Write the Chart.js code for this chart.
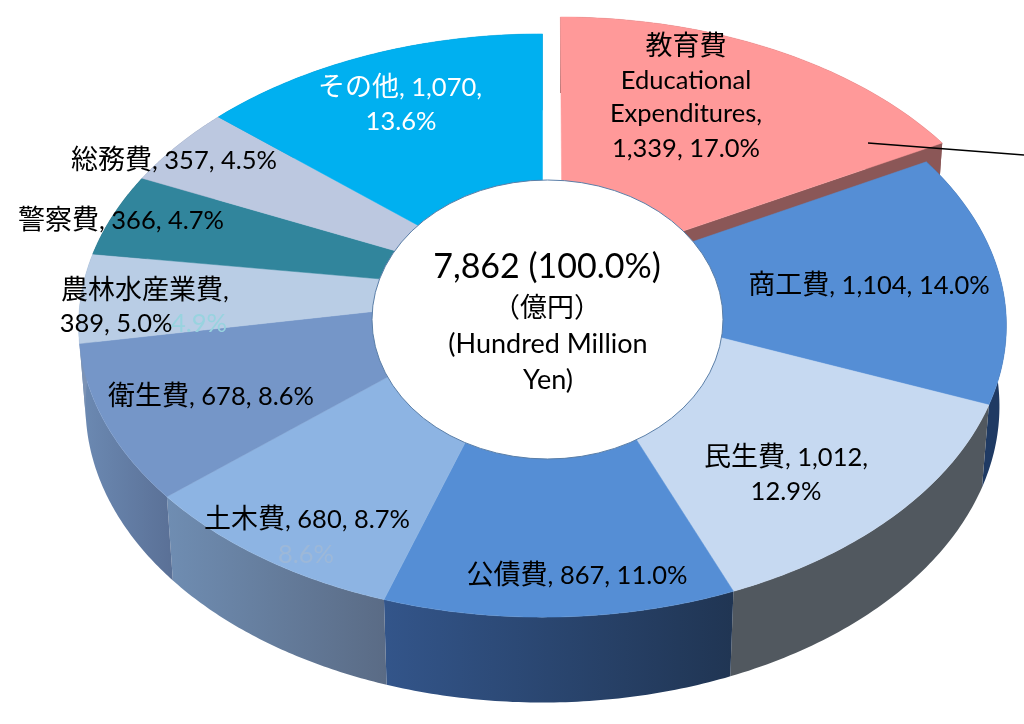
<!DOCTYPE html>
<html>
<head>
<meta charset="utf-8">
<title>Expenditures</title>
<script src="https://cdn.jsdelivr.net/npm/chart.js@4"></script>
<style>
  html, body { margin: 0; padding: 0; background: #fff; overflow: hidden; }
  canvas { display: block; }
</style>
</head>
<body>
<canvas id="pie" width="1024" height="724"></canvas>
<script>
// data
const categories = ['教育費', '商工費', '民生費', '公債費', '土木費', '衛生費', '農林水産業費', '警察費', '総務費', 'その他'];
const amounts = [1339, 1104, 1012, 867, 680, 678, 389, 366, 357, 1070];
const shares = ['17.0%', '14.0%', '12.9%', '11.0%', '8.7%', '8.6%', '5.0%', '4.7%', '4.5%', '13.6%'];
const englishName = ['Educational', 'Expenditures,'];
const totalText = '7,862 (100.0%)';
const unitLines = ['（億円）', '(Hundred Million', 'Yen)'];
const strayLabels = ['4.9%', '8.6%'];

// colours
const topColors = ['#FF9999', '#558ED5', '#C6D9F1', '#558ED5', '#8DB4E3', '#7596C8', '#B9CDE5', '#31859C', '#BCC8E0', '#00B0F0'];
const wallLeft = ['#8B5757', '#1F3A63', '#51585F', '#33558A', '#6F8DB2', '#6C8AB3', '#7C93B5', '#20525F', '#667088', '#006A90'];
const wallRight = ['#8B5757', '#1F3A63', '#51585F', '#203553', '#5A6B85', '#5A7096', '#7C93B5', '#20525F', '#667088', '#006A90'];
const explode = [29.5, 0, 0, 0, 0, 0, 0, 0, 0, 0];

// perspective of the tilted disc
const CX = 542.5, CY = 293, RX = 461, RY = 288, TILT = 0.1115, SAG = 0.015, DEPTH = 82;
const project = (u, v, w) => {
  const d = 1 - TILT * v + SAG * w;
  return [CX + RX * u / d, CY + (RY * v + DEPTH * w) / d];
};

const CJK = /[\u3000-\u9fff\uff00-\uffef]+|[^\u3000-\u9fff\uff00-\uffef]+/g;
const isCjk = s => /[\u3000-\u9fff\uff00-\uffef]/.test(s);

function mixedText(ctx, text, cx, y, size, color, cjkSize) {
  const parts = text.match(CJK);
  const fontOf = p => isCjk(p) ? cjkSize + 'px "Noto Sans CJK JP"' : size + 'px Lato';
  const widths = parts.map(p => {
    ctx.font = fontOf(p);
    return ctx.measureText(p).width;
  });
  let x = cx - widths.reduce((a, b) => a + b, 0) / 2;
  ctx.fillStyle = color;
  ctx.textAlign = 'left';
  ctx.textBaseline = 'alphabetic';
  parts.forEach((p, i) => {
    ctx.font = fontOf(p);
    ctx.fillText(p, x, y);
    x += widths[i];
  });
}

const fmt = i => amounts[i].toLocaleString('en-US');

// [text, centre x, baseline y, colour]
function labelLines() {
  const full = i => categories[i] + ', ' + fmt(i) + ', ' + shares[i];
  return [
    [categories[0], 686, 55, '#000'],
    [englishName[0], 686, 89, '#000'],
    [englishName[1], 686, 122, '#000'],
    [fmt(0) + ', ' + shares[0], 686, 157, '#000'],
    [full(1), 869, 294, '#000'],
    [categories[2] + ', ' + fmt(2) + ',', 786, 466, '#000'],
    [shares[2], 786, 500, '#000'],
    [full(3), 577, 584, '#000'],
    [full(4), 307, 528, '#000'],
    [full(5), 211, 405, '#000'],
    [categories[6] + ',', 145, 299, '#000'],
    [fmt(6) + ', ' + shares[6], 116, 332, '#000'],
    [full(7), 121, 229, '#000'],
    [full(8), 174, 169, '#000'],
    [categories[9] + ', ' + fmt(9) + ',', 400, 96, '#fff'],
    [shares[9], 401, 130, '#fff'],
    [strayLabels[0], 199, 332, '#98D3DF'],
    [strayLabels[1], 306, 563, '#9DB8D8']
  ];
}

const disc3d = {
  id: 'disc3d',
  beforeDatasetDraw(chart) {
    const ctx = chart.ctx;
    const meta = chart.getDatasetMeta(0);
    const unit = meta.controller.outerRadius;
    const geo = meta.data.map(arc => {
      const p = arc.getProps(['startAngle', 'endAngle', 'outerRadius']);
      const mid = (p.startAngle + p.endAngle) / 2;
      const off = arc.options.offset / unit;
      return {
        s: p.startAngle, e: p.endAngle, r: p.outerRadius / unit,
        ox: Math.cos(mid) * off, oy: Math.sin(mid) * off
      };
    });
    const at = (g, a, w) => project(g.ox + Math.cos(a) * g.r, g.oy + Math.sin(a) * g.r, w);
    const run = (g, w, rev) => {
      const n = 60, pts = [];
      for (let k = 0; k <= n; k++) {
        const t = rev ? 1 - k / n : k / n;
        pts.push(at(g, g.s + (g.e - g.s) * t, w));
      }
      return pts;
    };
    const poly = pts => {
      ctx.beginPath();
      pts.forEach((q, k) => k ? ctx.lineTo(q[0], q[1]) : ctx.moveTo(q[0], q[1]));
      ctx.closePath();
    };
    // outer walls, exploded slice first
    const order = geo.map((g, i) => i).sort((a, b) => explode[b] - explode[a]);
    order.forEach(i => {
      const g = geo[i];
      const pts = run(g, 0, false).concat(run(g, 1, true));
      const xs = pts.map(q => q[0]);
      const grad = ctx.createLinearGradient(Math.min(...xs), 0, Math.max(...xs), 0);
      grad.addColorStop(0, wallLeft[i]);
      grad.addColorStop(1, wallRight[i]);
      poly(pts);
      ctx.fillStyle = grad;
      ctx.fill();
      if (explode[i]) {
        // cut face under the raised slice
        poly([project(g.ox, g.oy, 0), at(g, g.e, 0), at(g, g.e, 1), project(g.ox, g.oy, 1)]);
        ctx.fill();
      }
    });
    // top faces
    order.forEach(i => {
      const g = geo[i];
      poly([project(g.ox, g.oy, 0)].concat(run(g, 0, false)));
      ctx.fillStyle = topColors[i];
      ctx.strokeStyle = topColors[i];
      ctx.lineWidth = 0.5;
      ctx.fill();
      ctx.stroke();
    });
    return false;
  },
  afterDatasetsDraw(chart) {
    const ctx = chart.ctx;
    // centre label plate
    ctx.beginPath();
    ctx.ellipse(547.5, 319.5, 175.5, 139.5, 0, 0, Math.PI * 2);
    ctx.fillStyle = '#fff';
    ctx.fill();
    ctx.strokeStyle = '#5B7FA8';
    ctx.lineWidth = 1;
    ctx.stroke();

    labelLines().forEach(l => mixedText(ctx, l[0], l[1], l[2], 25.5, l[3], 27));
    mixedText(ctx, totalText, 547, 278, 34, '#000', 34);
    mixedText(ctx, unitLines[0], 547, 317, 25.5, '#000', 27);
    mixedText(ctx, unitLines[1], 548, 353, 27, '#000', 27);
    mixedText(ctx, unitLines[2], 548, 389, 27, '#000', 27);

    // leader line
    ctx.beginPath();
    ctx.moveTo(868, 143);
    ctx.lineTo(1024, 155);
    ctx.strokeStyle = '#000';
    ctx.lineWidth = 1.5;
    ctx.stroke();
  }
};

new Chart(document.getElementById('pie'), {
  type: 'pie',
  data: {
    labels: categories,
    datasets: [{ data: amounts, backgroundColor: topColors, borderWidth: 0, offset: explode }]
  },
  options: {
    responsive: false,
    animation: false,
    plugins: { legend: { display: false }, tooltip: { enabled: false } }
  },
  plugins: [disc3d]
});
</script>
</body>
</html>
